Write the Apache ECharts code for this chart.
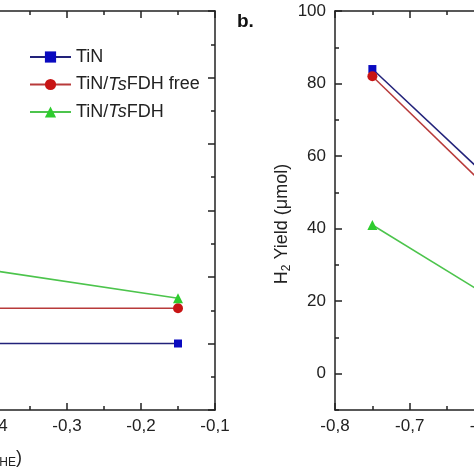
<!DOCTYPE html>
<html><head><meta charset="utf-8">
<script src="https://cdn.jsdelivr.net/npm/echarts@6/dist/echarts.min.js"></script>
<style>html,body{margin:0;padding:0;background:#fff}#c{width:474px;height:474px}</style>
</head><body><div id="c"></div>
<script>
// Panel a (left, partially cropped)
const xLeft = [-0.45, -0.15];
const leftTiN = [10, 10];
const leftFree = [15.3, 15.3];
const leftFDH = [21.8, 16.8];
// Panel b (right, partially cropped)
const xRight = [-0.75, -0.6];
const rightTiN = [84, 55];
const rightFree = [82, 52];
const rightFDH = [41, 22];
const seriesNames = ['TiN', 'TiN/TsFDH free', 'TiN/TsFDH'];
const rightYLabels = [0, 20, 40, 60, 80, 100];

const FONT = 'Liberation Sans, Arial, sans-serif';
const AX = '#222';
const lineCol = ['#22227a', '#b83a3a', '#4cc44c'];
const symCol = ['#0a0ac0', '#c81414', '#2ecc2e'];
const symbols = ['rect', 'circle', 'triangle'];
const symSize = [8, 10, 10];

function fmtX(v){ return (Math.round(v*10)/10).toFixed(1).replace('.', ','); }

function xAx(grid, min, max, pos, labels){
  return {
    type:'value', gridIndex:grid, min:min, max:max, interval:0.1, position:pos,
    axisLine:{show:true, onZero:false, lineStyle:{color:AX, width:1.5}},
    axisTick:{show:true, inside:true, length:7, lineStyle:{color:AX, width:1.5}},
    minorTick:{show:true, splitNumber:2, length:4, lineStyle:{color:AX, width:1.5}},
    splitLine:{show:false},
    axisLabel:{show:labels, formatter:fmtX, fontSize:17, color:AX, fontFamily:FONT, margin:8}
  };
}

const opt = {
  animation:false,
  backgroundColor:'#fff',
  grid:[
    {left:-81, top:11, width:296, height:399, containLabel:false, outerBoundsMode:'none'},
    {left:335, top:11, width:299, height:399, containLabel:false, outerBoundsMode:'none'}
  ],
  xAxis:[
    xAx(0, -0.5, -0.1, 'bottom', true),
    xAx(0, -0.5, -0.1, 'top', false),
    xAx(1, -0.8, -0.4, 'bottom', true),
    xAx(1, -0.8, -0.4, 'top', false)
  ],
  yAxis:[
    {type:'value', gridIndex:0, min:0, max:60, interval:10, position:'right',
     axisLine:{show:true, onZero:false, lineStyle:{color:AX, width:1.5}},
     axisTick:{show:true, inside:true, length:7, lineStyle:{color:AX, width:1.5}},
     minorTick:{show:true, splitNumber:2, length:4, lineStyle:{color:AX, width:1.5}},
     splitLine:{show:false}, axisLabel:{show:false}},
    {type:'value', gridIndex:1, min:-10, max:100, interval:10, position:'left',
     axisLine:{show:true, onZero:false, lineStyle:{color:AX, width:1.5}},
     axisTick:{show:true, inside:true, length:4, lineStyle:{color:AX, width:1.5}},
     splitLine:{show:false},
     axisLabel:{fontSize:17, color:AX, fontFamily:FONT, margin:9, customValues:rightYLabels}},
    {type:'value', gridIndex:1, min:-10, max:100, interval:10, position:'left',
     axisLine:{show:false},
     axisTick:{show:true, inside:true, length:7, customValues:rightYLabels, lineStyle:{color:AX, width:1.5}},
     splitLine:{show:false}, axisLabel:{show:false}}
  ],
  legend:{
    orient:'vertical', left:24, top:43, itemWidth:41, itemHeight:14, itemGap:9.5,
    data:seriesNames,
    formatter:function(n){
      if(n==='TiN') return '{n|TiN}';
      if(n==='TiN/TsFDH free') return '{n|TiN/}{i|Ts}{n|FDH free}';
      return '{n|TiN/}{i|Ts}{n|FDH}';
    },
    textStyle:{fontSize:18, color:'#222', fontFamily:FONT,
      rich:{n:{fontSize:18, color:'#222', fontFamily:FONT},
            i:{fontSize:18, color:'#222', fontFamily:FONT, fontStyle:'italic'}}}
  },
  series:[]
};

const leftSets = [leftTiN, leftFree, leftFDH];
const rightSets = [rightTiN, rightFree, rightFDH];
for(let k=0;k<3;k++){
  const base = {
    type:'line', name:seriesNames[k], symbol:symbols[k], symbolSize:symSize[k],
    lineStyle:{color:lineCol[k], width:1.5}, itemStyle:{color:symCol[k]}, clip:false
  };
  opt.series.push(Object.assign({}, base, {xAxisIndex:0, yAxisIndex:0,
    data:xLeft.map((x,i)=>[x, leftSets[k][i]])}));
  opt.series.push(Object.assign({}, base, {xAxisIndex:2, yAxisIndex:1,
    data:xRight.map((x,i)=>[x, rightSets[k][i]])}));
}

opt.graphic = [
  {type:'text', left:237, top:12, style:{text:'b.', fontSize:19, fontWeight:'bold', fill:'#111', fontFamily:FONT}},
  {type:'text', x:282, y:224, rotation:Math.PI/2, style:{
    text:'H{s|2} Yield (μmol)', fontSize:18, fill:'#222', fontFamily:FONT,
    align:'center', verticalAlign:'middle',
    rich:{s:{fontSize:12, fill:'#222', fontFamily:FONT, padding:[10,0,0,0]}}}},
  {type:'text', x:22, y:458, style:{
    text:'E (V vs. R{s|RHE})', fontSize:18, fill:'#222', fontFamily:FONT,
    align:'right', verticalAlign:'middle',
    rich:{s:{fontSize:12, fill:'#222', fontFamily:FONT, padding:[10,0,0,0]}}}}
];

const chart = echarts.init(document.getElementById('c'), null, {renderer:'canvas'});
chart.setOption(opt);
</script></body></html>
